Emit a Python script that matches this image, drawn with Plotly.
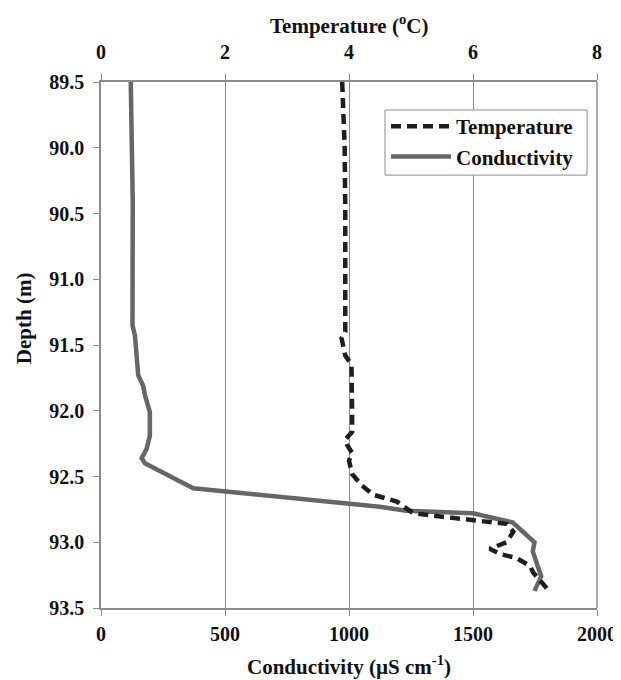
import plotly.graph_objects as go

# Temperature profile (depth m, temperature degC)
temp_depth = [89.5, 89.7, 90.0, 90.5, 91.0, 91.4, 91.45, 91.58, 91.65, 91.8, 92.0, 92.16,
              92.22, 92.26, 92.32, 92.38, 92.48, 92.57, 92.64, 92.69, 92.78, 92.81, 92.84,
              92.86, 92.92, 93.0, 93.05, 93.09, 93.12, 93.18, 93.23, 93.35]
temp_vals = [3.89, 3.91, 3.93, 3.94, 3.95, 3.94, 3.88, 3.94, 4.04, 4.05, 4.05, 4.05,
             3.94, 3.97, 4.05, 4.0, 4.05, 4.21, 4.40, 4.77, 5.04, 5.58, 6.11,
             6.54, 6.65, 6.54, 6.27, 6.44, 6.70, 6.92, 6.97, 7.19]

# Conductivity profile (depth m, uS/cm)
cond_depth = [89.5, 90.4, 91.35, 91.43, 91.73, 91.81, 91.88, 92.01, 92.19, 92.29, 92.36,
              92.40, 92.59, 92.73, 92.76, 92.78, 92.85, 93.0, 93.07, 93.26, 93.37]
cond_vals = [120, 128, 127, 137, 150, 170, 177, 197, 197, 184, 164,
             177, 372, 1124, 1231, 1500, 1661, 1748, 1741, 1775, 1748]

depth_ticks = [89.5, 90.0, 90.5, 91.0, 91.5, 92.0, 92.5, 93.0, 93.5]
cond_ticks = [0, 500, 1000, 1500, 2000]
temp_ticks = [0, 2, 4, 6, 8]

FONT = "Liberation Serif"
FS = 21
TFS = 20
GRAY = "#8c8c8c"

fig = go.Figure()
fig.add_trace(go.Scatter(
    x=temp_vals, y=temp_depth, mode="lines", name="<b>Temperature</b>",
    xaxis="x2", yaxis="y",
    line=dict(color="#1e1e1e", width=4.5, dash="10px,6px"),
))
fig.add_trace(go.Scatter(
    x=cond_vals, y=cond_depth, mode="lines", name="<b>Conductivity</b>",
    xaxis="x", yaxis="y",
    line=dict(color="#666666", width=4.5),
))

axis_common = dict(
    showline=True, linecolor=GRAY, linewidth=1.5, mirror=False,
    ticks="outside", ticklen=6, tickcolor=GRAY, tickwidth=1,
    tickfont=dict(family=FONT, size=TFS, color="#111"),
    zeroline=False, automargin=False,
)

fig.update_layout(
    width=613, height=672,
    margin=dict(l=93, r=24, t=74, b=72),
    paper_bgcolor="white", plot_bgcolor="white",
    font=dict(family=FONT, color="#111"),
    xaxis=dict(
        range=[0, 2000], tickvals=cond_ticks,
        ticktext=[f"<b>{v}</b>" for v in cond_ticks],
        showgrid=True, gridcolor=GRAY, gridwidth=1,
        ticklabelstandoff=1,
        **axis_common,
    ),
    xaxis2=dict(
        range=[0, 8], tickvals=temp_ticks, overlaying="x", side="top",
        ticktext=[f"<b>{v}</b>" for v in temp_ticks],
        showgrid=False, ticklabelstandoff=7,
        **axis_common,
    ),
    yaxis=dict(
        range=[93.5, 89.5], tickvals=depth_ticks,
        ticktext=[f"<b>{v:.1f}</b>" for v in depth_ticks],
        showgrid=False, ticklabelstandoff=5,
        **axis_common,
    ),
    legend=dict(
        x=0.5746, y=0.9544, xanchor="left", yanchor="top",
        bgcolor="rgba(0,0,0,0)", borderwidth=0,
        font=dict(family=FONT, size=FS, color="#111"),
        tracegroupgap=0, itemwidth=60,
    ),
    showlegend=True,
    annotations=[
        dict(text="<b>Temperature (<sup>o</sup>C)</b>", xref="paper", yref="paper",
             x=0.5, y=1, yshift=58, xanchor="center", yanchor="middle",
             showarrow=False, font=dict(family=FONT, size=FS, color="#111")),
        dict(text="<b>Conductivity (µS cm<sup>-1</sup>)</b>", xref="paper", yref="paper",
             x=0.5, y=0, yshift=-57, xanchor="center", yanchor="middle",
             showarrow=False, font=dict(family=FONT, size=FS, color="#111")),
        dict(text="<b>Depth (m)</b>", xref="paper", yref="paper",
             x=0, y=0.551, xshift=-77, xanchor="center", yanchor="middle",
             textangle=-90, showarrow=False, font=dict(family=FONT, size=FS, color="#111")),
    ],
    shapes=[
        # right border line
        dict(type="line", xref="paper", yref="paper", x0=1, x1=1, y0=0, y1=1,
             line=dict(color=GRAY, width=1.5)),
        # legend box
        dict(type="rect", xref="paper", yref="paper", x0=0.5726, x1=0.98,
             y0=0.823, y1=0.9468, fillcolor="white", layer="above",
             line=dict(color=GRAY, width=1)),
    ],
)

fig.write_html("out.html")
